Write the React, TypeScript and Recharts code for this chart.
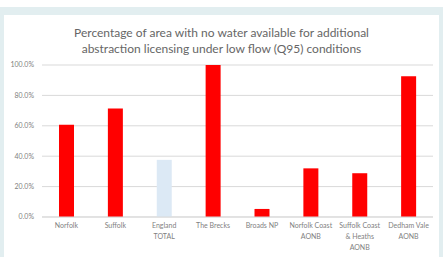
import React from 'react';
import { BarChart, Bar, XAxis, YAxis, CartesianGrid, Cell } from 'recharts';

const categories = [
  'Norfolk',
  'Suffolk',
  'England\nTOTAL',
  'The Brecks',
  'Broads NP',
  'Norfolk Coast\nAONB',
  'Suffolk Coast\n& Heaths\nAONB',
  'Dedham Vale\nAONB',
];
const percentages = [60.7, 71.3, 37.6, 100, 5.3, 32.0, 28.8, 92.6];
const yTicks = [0, 20, 40, 60, 80, 100];
const highlight = 'England\nTOTAL';

const data = categories.map((name, i) => ({ name, value: percentages[i] }));

const fontFamily = 'Lato, "Open Sans", sans-serif';

const CategoryTick = (props: any) => {
  const { x, y, payload } = props;
  const lines = String(payload.value).split('\n');
  return (
    <g transform={`translate(${x},${y})`}>
      {lines.map((line, i) => (
        <text
          key={i}
          x={0}
          y={3 + i * 11}
          textAnchor="middle"
          fontSize={7}
          fill="#7f7f7f"
          fontFamily={fontFamily}
        >
          {line}
        </text>
      ))}
    </g>
  );
};

export default function App() {
  return (
    <div style={{ position: 'fixed', left: 0, top: 0, width: 443, height: 257, background: '#fff', overflow: 'hidden' }}>
      {/* light blue frame */}
      <div style={{ position: 'absolute', left: 0, top: 7, width: 443, height: 250, background: '#e2eef0' }} />
      <div style={{ position: 'absolute', left: 4, top: 15, width: 435, height: 242, background: '#fff' }} />
      <div
        style={{
          position: 'absolute',
          left: 0,
          top: 25,
          width: 443,
          textAlign: 'center',
          fontFamily,
          fontSize: 12,
          lineHeight: '16px',
          color: '#666666',
        }}
      >
        Percentage of area with no water available for additional
        <br />
        abstraction licensing under low flow (Q95) conditions
      </div>
      <div style={{ position: 'absolute', left: 0, top: 0 }}>
        <BarChart
          width={443}
          height={257}
          data={data}
          margin={{ top: 65, right: 10, left: 0, bottom: 0 }}
          barCategoryGap={17}
        >
          <CartesianGrid vertical={false} stroke="#d9d9d9" />
          <XAxis
            dataKey="name"
            height={40}
            interval={0}
            tickLine={false}
            axisLine={{ stroke: '#d9d9d9' }}
            tick={<CategoryTick />}
          />
          <YAxis
            width={42}
            domain={[0, 100]}
            ticks={yTicks}
            tickLine={false}
            axisLine={false}
            tickFormatter={(v: number) => `${v.toFixed(1)}%`}
            tick={{ fontSize: 7, fill: '#7f7f7f', fontFamily }}
          />
          <Bar dataKey="value" isAnimationActive={false}>
            {data.map((d) => (
              <Cell key={d.name} fill={d.name === highlight ? '#dce9f5' : '#ff0000'} />
            ))}
          </Bar>
        </BarChart>
      </div>
    </div>
  );
}
